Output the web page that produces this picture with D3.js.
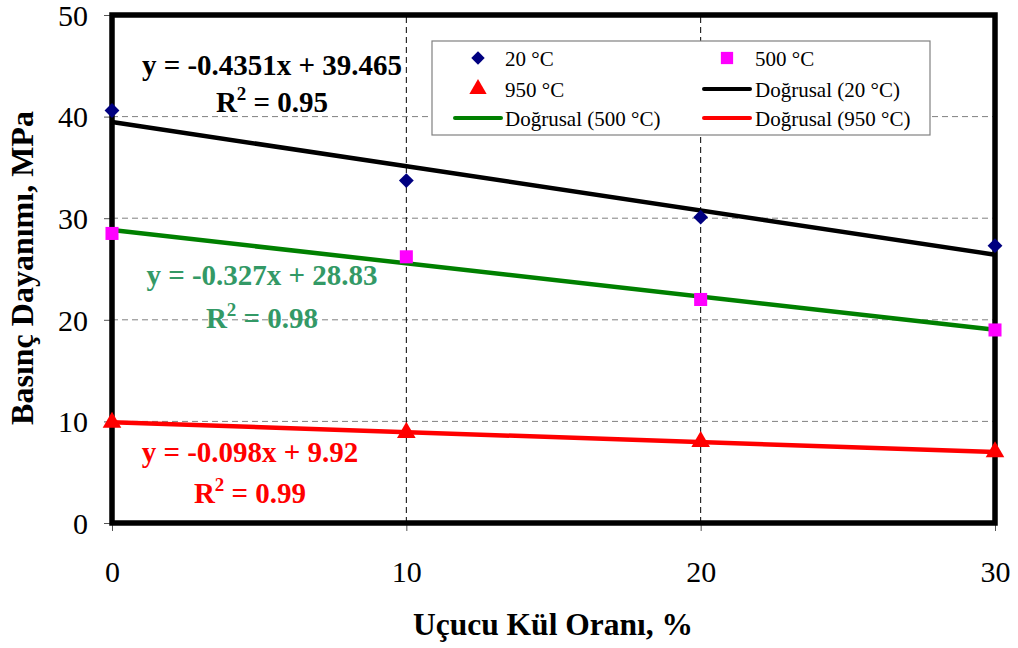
<!DOCTYPE html>
<html>
<head>
<meta charset="utf-8">
<script src="https://cdn.jsdelivr.net/npm/d3@7"></script>
<style>
  body { margin: 0; background: #fff; }
  svg text { font-family: "Liberation Serif", "Times New Roman", serif; }
</style>
</head>
<body>
<svg id="chart" width="1018" height="648"></svg>
<script>
// data
const ashRatio = [0, 10, 20, 30];
const s20 = [40.6, 33.7, 30.1, 27.3];
const s500 = [28.5, 26.2, 22.0, 19.0];
const s950 = [9.9, 8.9, 8.0, 7.0];
const seriesNames = ["20 °C", "500 °C", "950 °C"];
const slopes = [-0.4351, -0.327, -0.098];
const intercepts = [39.465, 28.83, 9.92];
const r2 = ["0.95", "0.98", "0.99"];
const xTicks = [0, 10, 20, 30];
const yTicks = [0, 10, 20, 30, 40, 50];

const serif = "Liberation Serif";
const svg = d3.select("#chart");
const x = d3.scaleLinear().domain([0, 30]).range([112, 995]);
const y = d3.scaleLinear().domain([0, 50]).range([523, 15]);

// gridlines
svg.append("g").selectAll("line")
  .data([10, 20, 30, 40])
  .join("line")
  .attr("x1", x(0)).attr("x2", x(30))
  .attr("y1", d => y(d)).attr("y2", d => y(d))
  .attr("stroke", "#808080").attr("stroke-width", 1)
  .attr("stroke-dasharray", "6,4");
svg.append("g").selectAll("line")
  .data([10, 20])
  .join("line")
  .attr("x1", d => x(d)).attr("x2", d => x(d))
  .attr("y1", y(0)).attr("y2", y(50))
  .attr("stroke", "#000").attr("stroke-width", 1)
  .attr("stroke-dasharray", "6,4");

// axes (ticks + labels)
const yAxis = svg.append("g").attr("transform", `translate(${x(0)},0)`)
  .call(d3.axisLeft(y).tickValues(yTicks).tickSize(8).tickPadding(16));
yAxis.attr("font-family", serif).attr("font-size", 30);
yAxis.select(".domain").remove();
yAxis.selectAll("line").attr("stroke", "#555");
yAxis.selectAll("text").attr("fill", "#000").attr("dy", "0.34em");

const xAxis = svg.append("g").attr("transform", `translate(0,${y(0)})`)
  .call(d3.axisBottom(x).tickValues(xTicks).tickSize(8));
xAxis.attr("font-family", serif).attr("font-size", 30);
xAxis.select(".domain").remove();
xAxis.selectAll("line").attr("stroke", "#555");
xAxis.selectAll("text").attr("fill", "#000").attr("y", 59).attr("dy", 0);

// trend lines
const lineColors = ["#000000", "#008000", "#ff0000"];
const trendG = svg.append("g");
slopes.forEach((m, i) => {
  trendG.append("line")
    .attr("x1", x(0)).attr("y1", y(intercepts[i]))
    .attr("x2", x(30)).attr("y2", y(intercepts[i] + m * 30))
    .attr("stroke", lineColors[i]).attr("stroke-width", 4.5);
});

// plot border
svg.append("rect")
  .attr("x", x(0)).attr("y", y(50))
  .attr("width", x(30) - x(0)).attr("height", y(0) - y(50))
  .attr("fill", "none").attr("stroke", "#000").attr("stroke-width", 5.5);

// markers
const markerG = svg.append("g");
markerG.selectAll(".d20").data(s20).join("path")
  .attr("transform", (d, i) => `translate(${x(ashRatio[i])},${y(d)}) rotate(45)`)
  .attr("d", d3.symbol().type(d3.symbolSquare).size(110))
  .attr("fill", "#000080");
markerG.selectAll(".s500").data(s500).join("path")
  .attr("transform", (d, i) => `translate(${x(ashRatio[i])},${y(d)})`)
  .attr("d", d3.symbol().type(d3.symbolSquare).size(170))
  .attr("fill", "#ff00ff");
markerG.selectAll(".t950").data(s950).join("path")
  .attr("transform", (d, i) => `translate(${x(ashRatio[i])},${y(d)})`)
  .attr("d", d3.symbol().type(d3.symbolTriangle).size(150))
  .attr("fill", "#ff0000");

// equation labels
const eqColors = ["#000000", "#339966", "#ff0000"];
const eqPos = [[272, 75, 112], [262, 285, 328], [250, 462, 503]];
const fmt = (m, b) => `y = ${m}x + ${b}`;
slopes.forEach((m, i) => {
  const g = svg.append("g").attr("fill", eqColors[i]).attr("font-weight", "bold")
    .attr("font-size", 29).attr("text-anchor", "middle");
  g.append("text").attr("x", eqPos[i][0]).attr("y", eqPos[i][1]).text(fmt(m, intercepts[i]));
  const t = g.append("text").attr("x", eqPos[i][0]).attr("y", eqPos[i][2]);
  t.append("tspan").text("R");
  t.append("tspan").attr("dy", -12).attr("font-size", 19).text("2");
  t.append("tspan").attr("dy", 12).text(" = " + r2[i]);
});

// legend
const lg = svg.append("g");
lg.append("rect").attr("x", 432).attr("y", 41).attr("width", 498).attr("height", 94)
  .attr("fill", "#fff").attr("stroke", "#808080").attr("stroke-width", 1.2);
const legendItems = [
  { label: seriesNames[0], kind: "diamond", color: "#000080", cx: 478, cy: 58, tx: 505 },
  { label: seriesNames[1], kind: "square", color: "#ff00ff", cx: 727, cy: 58, tx: 755 },
  { label: seriesNames[2], kind: "triangle", color: "#ff0000", cx: 478, cy: 89, tx: 505 },
  { label: "Doğrusal (20 °C)", kind: "line", color: "#000000", cx: 727, cy: 89, tx: 755 },
  { label: "Doğrusal (500 °C)", kind: "line", color: "#008000", cx: 478, cy: 118, tx: 505 },
  { label: "Doğrusal (950 °C)", kind: "line", color: "#ff0000", cx: 727, cy: 118, tx: 755 }
];
legendItems.forEach(it => {
  if (it.kind === "line") {
    lg.append("line").attr("x1", it.cx - 23).attr("x2", it.cx + 23)
      .attr("y1", it.cy).attr("y2", it.cy)
      .attr("stroke", it.color).attr("stroke-width", 4).attr("stroke-linecap", "round");
  } else if (it.kind === "diamond") {
    lg.append("path").attr("transform", `translate(${it.cx},${it.cy}) rotate(45)`)
      .attr("d", d3.symbol().type(d3.symbolSquare).size(90)).attr("fill", it.color);
  } else if (it.kind === "square") {
    lg.append("path").attr("transform", `translate(${it.cx},${it.cy})`)
      .attr("d", d3.symbol().type(d3.symbolSquare).size(150)).attr("fill", it.color);
  } else {
    lg.append("path").attr("transform", `translate(${it.cx},${it.cy})`)
      .attr("d", d3.symbol().type(d3.symbolTriangle).size(130)).attr("fill", it.color);
  }
  lg.append("text").attr("x", it.tx).attr("y", it.cy + 8)
    .attr("font-size", 21).text(it.label);
});

// axis titles
svg.append("text")
  .attr("transform", "translate(33,268) rotate(-90)")
  .attr("text-anchor", "middle").attr("font-weight", "bold").attr("font-size", 32)
  .text("Basınç Dayanımı, MPa");
svg.append("text")
  .attr("x", 553).attr("y", 635)
  .attr("text-anchor", "middle").attr("font-weight", "bold").attr("font-size", 31.5)
  .text("Uçucu Kül Oranı, %");
</script>
</body>
</html>
